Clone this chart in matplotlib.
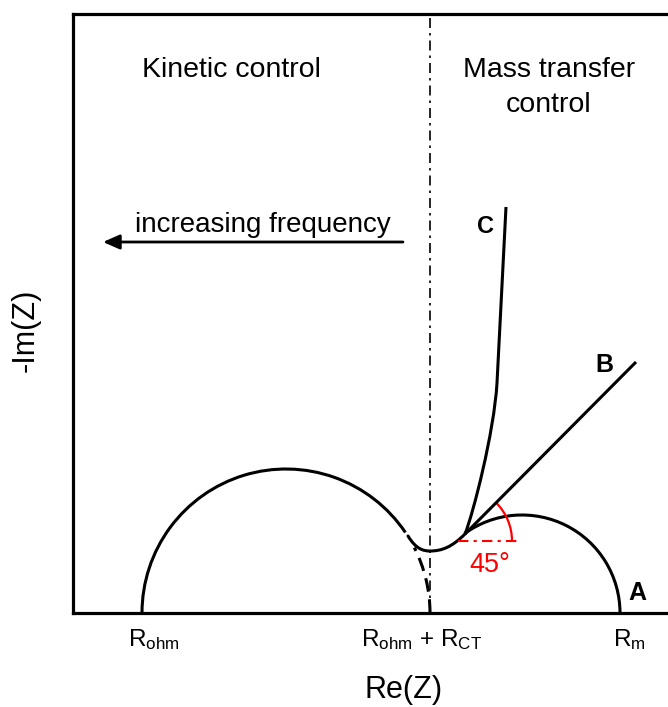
import numpy as np
import matplotlib
matplotlib.use("Agg")
import matplotlib.pyplot as plt
from matplotlib.patches import Arc, PathPatch
from matplotlib.path import Path

plt.rcParams['font.family'] = ['Liberation Sans', 'DejaVu Sans']
plt.rcParams['mathtext.fontset'] = 'custom'
plt.rcParams['mathtext.rm'] = 'Liberation Sans'
plt.rcParams['mathtext.it'] = 'Liberation Sans:italic'
plt.rcParams['mathtext.bf'] = 'Liberation Sans:bold'

# schematic Nyquist plot, units (x right, y up from the axis)
R_ohm = 142
R_ohm_ct = 430
R_m = 620

# kinetic semicircle
arc1_centre = (286, 0)
arc1_radius = 144
arc1_solid = (34, 180)     # degrees
arc1_dashed = (0, 27)

# dip between the two regions, two cubic pieces
dip_points = [(408, 77), (416, 64), (423, 62), (430, 62),
              (442, 62), (452, 66), (465, 79)]

# curve A: second semicircle
arcA_centre = (522, 0)
arcA_radius = 98
arcA_span = (0, 126)

# curve B: 45 degree line
lineB_x = [465, 636]
lineB_y = [79, 251]

# curve C: steep capacitive rise
curveC_points = [(465, 79), (473, 99), (494, 180), (497, 230), (506, 406)]

# 45 degree marker
angle_centre = (458, 72)
angle_radius = 54
angle_line_x = [458, 520]

fig = plt.figure(figsize=(6.68, 7.07), dpi=100)
ax = fig.add_axes([73 / 668, 94 / 707, 595 / 668, 599 / 707])
ax.set_xlim(73, 668)
ax.set_ylim(0, 599)
ax.set_xticks([])
ax.set_yticks([])
ax.spines['right'].set_visible(False)
for s in ['left', 'top', 'bottom']:
    ax.spines[s].set_linewidth(2.3)

lw = 2.2

# dividing line
ax.plot([R_ohm_ct, R_ohm_ct], [0, 599], color='k', lw=1.2,
        linestyle=(0, (6, 3, 1.5, 3)), zorder=1)

ax.add_patch(Arc(arc1_centre, 2 * arc1_radius, 2 * arc1_radius,
                 theta1=arc1_solid[0], theta2=arc1_solid[1], lw=lw, color='k'))
ax.add_patch(Arc(arc1_centre, 2 * arc1_radius, 2 * arc1_radius,
                 theta1=arc1_dashed[0], theta2=arc1_dashed[1], lw=lw, color='k',
                 linestyle=(0, (4.5, 2.5))))

dip = Path(dip_points, [Path.MOVETO] + [Path.CURVE4] * 6)
ax.add_patch(PathPatch(dip, fill=False, lw=lw, color='k', capstyle='round'))

ax.add_patch(Arc(arcA_centre, 2 * arcA_radius, 2 * arcA_radius,
                 theta1=arcA_span[0], theta2=arcA_span[1], lw=lw, color='k'))

ax.plot(lineB_x, lineB_y, color='k', lw=lw, solid_capstyle='butt')

pathC = Path(curveC_points, [Path.MOVETO, Path.CURVE4, Path.CURVE4, Path.CURVE4, Path.LINETO])
ax.add_patch(PathPatch(pathC, fill=False, lw=lw, color='k', capstyle='butt'))

# angle marker
ax.plot(angle_line_x, [angle_centre[1]] * 2, color='#ff0000', lw=1.5,
        linestyle=(0, (5, 2.5, 1.5, 2.5)))
ax.add_patch(Arc(angle_centre, 2 * angle_radius, 2 * angle_radius,
                 theta1=0, theta2=45, lw=1.6, color='#ff0000'))
ax.text(490, 41, '45°', color='#ff0000', fontsize=19.5, ha='center', va='baseline')

# region labels
ax.text(231, 536, 'Kinetic control', fontsize=20.5, ha='center', va='baseline')
ax.text(549, 536, 'Mass transfer', fontsize=20.5, ha='center', va='baseline')
ax.text(549, 501, 'control', fontsize=20.5, ha='center', va='baseline')

ax.annotate('', xy=(103, 371), xytext=(403, 371),
            arrowprops=dict(arrowstyle='-|>,head_length=0.5,head_width=0.22',
                            lw=2, color='k', mutation_scale=20,
                            shrinkA=0, shrinkB=0))
ax.text(263, 381, 'increasing frequency', fontsize=20, ha='center', va='baseline')

# curve labels
ax.text(486, 380, 'C', fontsize=17, fontweight='bold', ha='center', va='baseline')
ax.text(604, 241, 'B', fontsize=18, fontweight='bold', ha='center', va='baseline')
ax.text(637, 13, 'A', fontsize=18, fontweight='bold', ha='center', va='baseline')

# x axis labels
ax.text(128, -33, r'$\mathrm{R_{ohm}}$', fontsize=17.5, ha='left', va='baseline')
ax.text(361, -33, r'$\mathrm{R_{ohm}}$ + $\mathrm{R_{CT}}$', fontsize=17.5, ha='left', va='baseline')
ax.text(613, -33, r'$\mathrm{R_{m}}$', fontsize=17.5, ha='left', va='baseline')

ax.text(404, -85, 'Re(Z)', fontsize=22, ha='center', va='baseline')
fig.text(26 / 668, 1 - 330 / 707, '-Im(Z)', fontsize=22, rotation=90,
         ha='center', va='center')

fig.savefig('out.png', dpi=100)
